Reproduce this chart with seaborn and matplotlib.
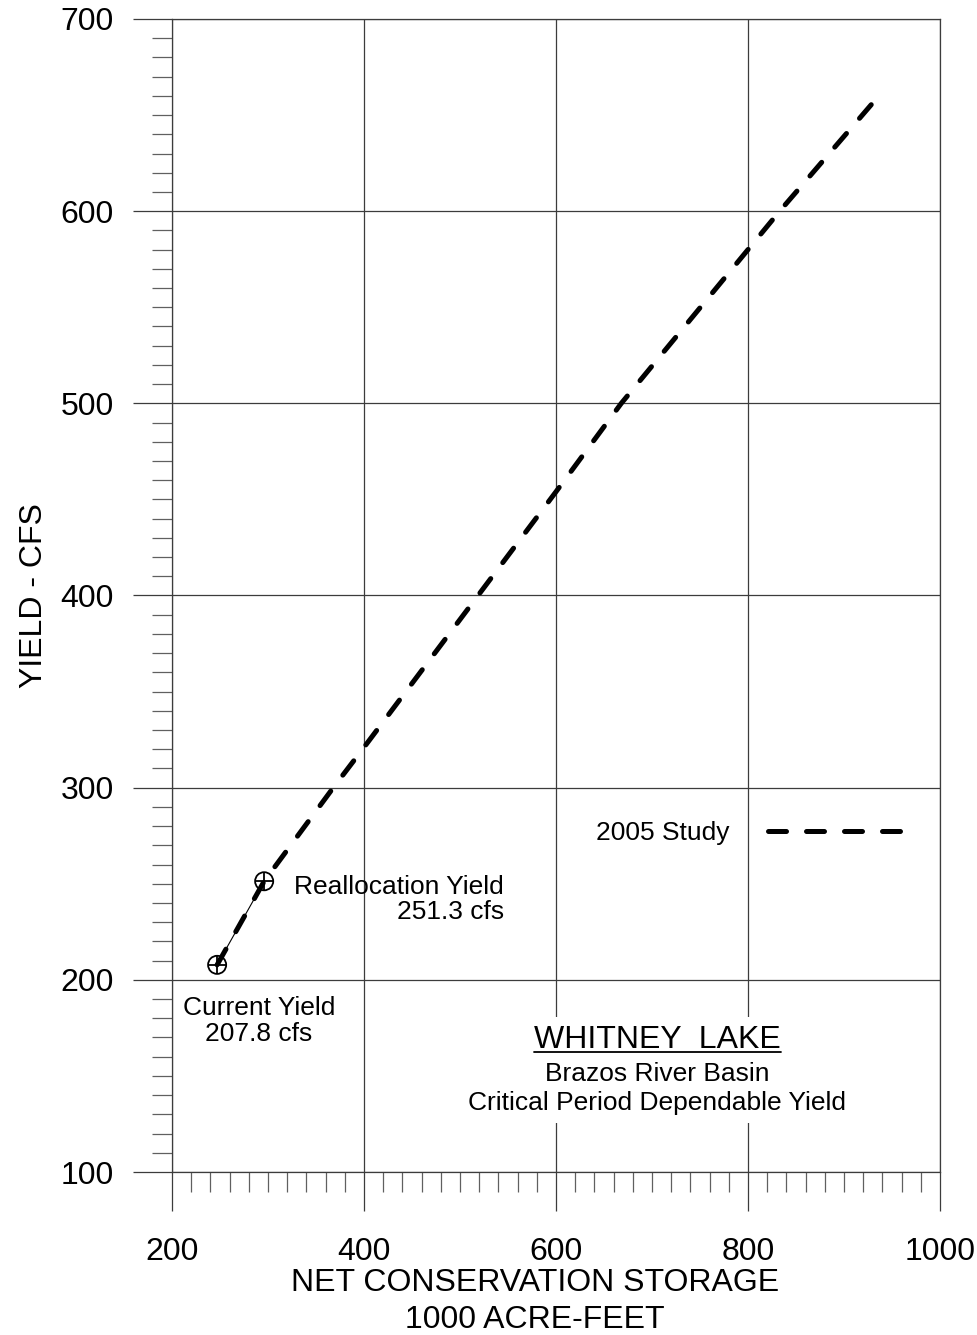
import matplotlib
matplotlib.use("Agg")
import matplotlib.pyplot as plt
import seaborn as sns
import pandas as pd
from matplotlib.ticker import MultipleLocator
from matplotlib.lines import Line2D

# ---- data ----
study_storage = [247, 296, 368, 400, 600, 668, 833, 938]
study_yield = [207.8, 251.3, 300, 321, 454, 500, 600, 661]
point_storage = [247, 296]
point_yield = [207.8, 251.3]
point_names = ["Current Yield", "Reallocation Yield"]
x_ticks = [200, 400, 600, 800, 1000]
y_ticks = [100, 200, 300, 400, 500, 600, 700]

sns.set_style("white")
plt.rcParams["font.family"] = ["Liberation Sans", "DejaVu Sans"]
plt.rcParams["text.color"] = "black"
plt.rcParams["axes.labelcolor"] = "black"

fig = plt.figure(figsize=(9.77, 13.35), dpi=100)
ax = fig.add_axes([172 / 977, 1 - 1172 / 1335, 768 / 977, 1153 / 1335])

study = pd.DataFrame({"storage": study_storage, "yield": study_yield})
pts = pd.DataFrame({"storage": point_storage, "yield": point_yield})

# thin solid connector between the two yield points
sns.lineplot(data=pts, x="storage", y="yield", ax=ax, color="black", lw=0.8,
             zorder=3, legend=False)
# 2005 study dashed curve
sns.lineplot(data=study, x="storage", y="yield", ax=ax, color="black", lw=3.6,
             linestyle=(0, (3.6, 4.0)), dash_capstyle="round", zorder=4,
             legend=False)
# circle-plus markers
sns.scatterplot(data=pts, x="storage", y="yield", ax=ax, marker="o", s=170,
                facecolor="none", edgecolor="black", linewidth=1.3, zorder=5,
                legend=False)
sns.scatterplot(data=pts, x="storage", y="yield", ax=ax, marker="+", s=170,
                color="black", linewidth=1.3, zorder=6, legend=False)

ax.set_xlim(200, 1000)
ax.set_ylim(100, 700)
ax.set_xticks(x_ticks)
ax.set_yticks(y_ticks)
ax.xaxis.set_minor_locator(MultipleLocator(20))
ax.yaxis.set_minor_locator(MultipleLocator(10))

gc = "#3c3c3c"
ax.grid(which="major", color=gc, lw=0.9)
for s in ax.spines.values():
    s.set_color(gc)
    s.set_linewidth(0.9)
ax.tick_params(which="major", direction="out", length=28, width=0.9, color=gc,
               labelsize=23, labelcolor="black")
ax.tick_params(axis="y", which="major", pad=14)
ax.tick_params(axis="x", which="major", pad=18.5)
ax.tick_params(which="minor", direction="out", length=14.5, width=0.9,
               color="#606060")
ax.tick_params(left=True, bottom=True, which="both")

ax.set_xlabel("NET CONSERVATION STORAGE\n1000 ACRE-FEET", fontsize=23,
              labelpad=1, x=0.473, linespacing=1.3, color="black")
ax.set_ylabel("YIELD - CFS", fontsize=23, labelpad=8, color="black")

# annotations
ax.text(545.8, 241.8, "Reallocation Yield\n251.3 cfs", fontsize=19,
        ha="right", va="center", multialignment="right", linespacing=1.1,
        zorder=7, color="black")
ax.text(290.6, 178.8, "Current Yield\n207.8 cfs", fontsize=19,
        ha="center", va="center", multialignment="center", linespacing=1.1,
        zorder=7, color="black")

# title block
box = dict(facecolor="white", edgecolor="none", pad=6)
title = ax.text(705.7, 168.7, "WHITNEY  LAKE", fontsize=23,
                ha="center", va="center", bbox=box, zorder=7, color="black")
ax.text(705.7, 151.0, "Brazos River Basin", fontsize=19, ha="center",
        va="center", bbox=box, zorder=7, color="black")
ax.text(705.7, 135.9, "Critical Period Dependable Yield", fontsize=19,
        ha="center", va="center", bbox=box, zorder=7, color="black")

# legend
handle = Line2D([], [], color="black", lw=3.6, linestyle=(0, (3.6, 4.0)),
                dash_capstyle="round")
ax.legend([handle], ["2005 Study"], loc="center right",
          bbox_to_anchor=(0.961, 0.294), frameon=False, markerfirst=False,
          fontsize=19, handlelength=5.4, handletextpad=1.45, borderpad=0,
          borderaxespad=0, labelcolor="black")

# underline the title using its rendered extent
fig.canvas.draw()
r = fig.canvas.get_renderer()
bb = title.get_window_extent(r)
inv = fig.transFigure.inverted()
(x0, y0), (x1, y1) = inv.transform([(bb.x0, bb.y0 + 3), (bb.x1, bb.y0 + 3)])
fig.add_artist(Line2D([x0, x1], [y0, y1], transform=fig.transFigure,
                      color="black", lw=1.3, zorder=8))

fig.savefig("out.png", dpi=100)
